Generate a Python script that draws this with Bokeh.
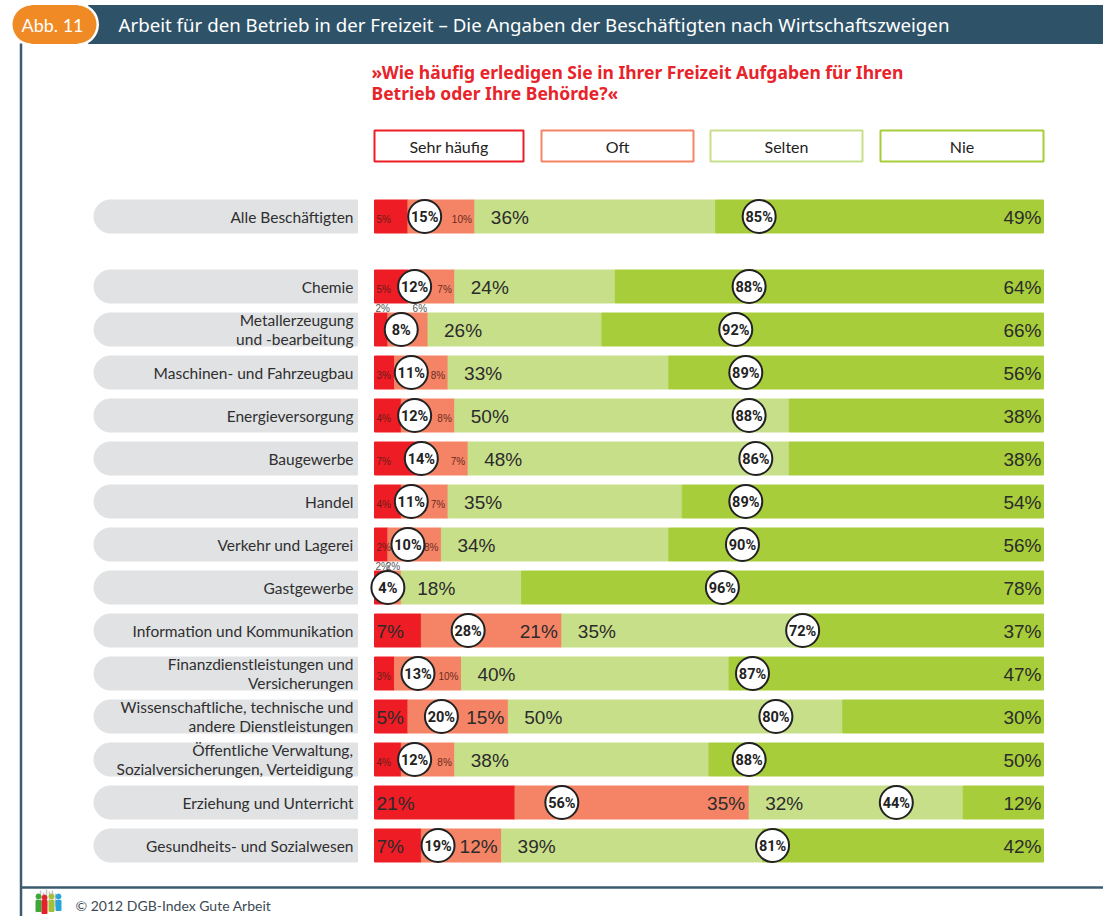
import numpy as np
from bokeh.plotting import figure
from bokeh.models import Range1d
from bokeh.core.properties import value
from bokeh.embed import file_html
from bokeh.resources import INLINE

# ---------------- data ----------------
categories = [
    "Alle Beschäftigten",
    "Chemie",
    "Metallerzeugung\nund -bearbeitung",
    "Maschinen- und Fahrzeugbau",
    "Energieversorgung",
    "Baugewerbe",
    "Handel",
    "Verkehr und Lagerei",
    "Gastgewerbe",
    "Information und Kommunikation",
    "Finanzdienstleistungen und\nVersicherungen",
    "Wissenschaftliche, technische und\nandere Dienstleistungen",
    "Öffentliche Verwaltung,\nSozialversicherungen, Verteidigung",
    "Erziehung und Unterricht",
    "Gesundheits- und Sozialwesen",
]
sehr_haeufig = [5, 5, 2, 3, 4, 7, 4, 2, 2, 7, 3, 5, 4, 21, 7]
oft = [10, 7, 6, 8, 8, 7, 7, 8, 2, 21, 10, 15, 8, 35, 12]
selten = [36, 24, 26, 33, 50, 48, 35, 34, 18, 35, 40, 50, 38, 32, 39]
nie = [49, 64, 66, 56, 38, 38, 54, 56, 78, 37, 47, 30, 50, 12, 42]
haeufig_total = [15, 12, 8, 11, 12, 14, 11, 10, 4, 28, 13, 20, 12, 56, 19]
selten_nie_total = [85, 88, 92, 89, 88, 86, 89, 90, 96, 72, 87, 80, 88, 44, 81]
legend_labels = ["Sehr häufig", "Oft", "Selten", "Nie"]
labels_above = ["Metallerzeugung\nund -bearbeitung", "Gastgewerbe"]

title = "Arbeit für den Betrieb in der Freizeit  \u2013 Die Angaben der Beschäftigten nach Wirtschaftszweigen"
badge = "Abb. 11"
question = ["»Wie häufig erledigen Sie in Ihrer Freizeit Aufgaben für Ihren",
            "Betrieb oder Ihre Behörde?«"]
footer = "© 2012 DGB-Index Gute Arbeit"

# ---------------- style ----------------
RED = "#ee1c25"
SALMON = "#f58466"
LGREEN = "#c8df8a"
GREEN = "#a7cd3a"
TEAL = "#2e5369"
ORANGE = "#f08a24"
PILL = "#e1e2e4"
DARK = "#2b2b2b"

W, H = 1103, 916
X0, PX = 374.0, 6.69  # pixel of 0 % and pixels per percent


def X(px):
    return (px - X0) / PX


def dx(px):
    return px / PX


p = figure(width=W, height=H, x_range=Range1d(X(0), X(W)),
           y_range=Range1d(H, 0), output_backend="svg",
           toolbar_location=None, min_border=0)
p.xaxis.visible = False
p.yaxis.visible = False
p.grid.visible = False
p.outline_line_color = None
p.background_fill_color = "white"
p.border_fill_color = "white"


def txt(xs, ys, ts, size, color, font="Liberation Sans", align="left",
        style="normal", baseline="middle", lh=1.2):
    p.text(x=list(xs), y=list(ys), text=list(ts), text_font_size=f"{size}px",
           text_color=color, text_font=value(font), text_align=align,
           text_baseline=baseline, text_font_style=style, text_line_height=lh)


# ---------------- header ----------------
p.quad(left=X(88), right=X(1103), top=5, bottom=43, color=TEAL)
p.scatter(x=[X(77)], y=[24], size=43, marker="circle", fill_color="white", line_color=None)
p.quad(left=X(31), right=X(77), top=5, bottom=43, color=ORANGE)
p.scatter(x=[X(31), X(77)], y=[24, 24], size=38, marker="circle", fill_color=ORANGE, line_color=None)
txt([X(52)], [24], [badge], 18, "white", font="Lato", align="center")
txt([X(118)], [24], [title], 18.7, "white", font="Noto Sans")

# frame lines
p.segment(x0=[X(20.5)], y0=[43], x1=[X(20.5)], y1=[916], line_color="#3d5b6e", line_width=2.5)
p.segment(x0=[X(20)], y0=[887], x1=[X(1103)], y1=[887], line_color="#3d5b6e", line_width=2.5)

# question
txt([X(371), X(371)], [71, 92], question, 17.5, "#e8232a", font="Noto Sans", style="bold")

# legend boxes
lb_left = [374, 541, 710, 880]
lb_right = [523, 693, 862, 1043]
lb_cols = [RED, SALMON, LGREEN, GREEN]
for l, r, c, t in zip(lb_left, lb_right, lb_cols, legend_labels):
    p.quad(left=X(l), right=X(r), top=130, bottom=161, fill_color="white",
           line_color=c, line_width=2)
    txt([X((l + r) / 2)], [146], [t], 16, "#222", font="Lato", align="center")

# ---------------- rows ----------------
n = len(categories)
row_y = np.array([216.0] + [286.0 + 43.0 * i for i in range(n - 1)])
BH = 33

# grey label pills
p.quad(left=X(110), right=X(357), top=row_y - BH / 2, bottom=row_y + BH / 2, color=PILL)
p.scatter(x=[X(110)] * n, y=row_y, size=BH, marker="circle", color=PILL)
txt([X(353)] * n, row_y, categories, 15.5, "#2f2f2f", font="Lato", align="right", lh=1.03)

s = np.array(sehr_haeufig, float)
o = np.array(oft, float)
se = np.array(selten, float)
ni = np.array(nie, float)
c1 = s
c2 = s + o
c3 = c2 + se
c4 = c3 + ni

# labels placed above narrow bars (drawn first, partially covered by bars)
ab = [i for i in range(n) if categories[i] in labels_above]
txt([dx(1)] * len(ab), row_y[ab] - BH / 2 - 5, [f"{sehr_haeufig[i]}%" for i in ab], 10, "#555")
txt(c2[ab] - dx(1), row_y[ab] - BH / 2 - 5, [f"{oft[i]}%" for i in ab], 10, "#555", align="right")

# bars
p.hbar(y=row_y, left=0, right=c1, height=BH, color=RED)
p.hbar(y=row_y, left=c1, right=c2, height=BH, color=SALMON)
p.hbar(y=row_y, left=c2, right=c3, height=BH, color=LGREEN)
p.hbar(y=row_y, left=c3, right=c4, height=BH, color=GREEN)

# in-bar labels for first two segments
big = [i for i in range(n) if haeufig_total[i] >= 19]
small = [i for i in range(n) if haeufig_total[i] < 19 and i not in ab]
txt([dx(2)] * len(small), row_y[small] + 3, [f"{sehr_haeufig[i]}%" for i in small], 10, "#6a1c18")
txt(c2[small] - dx(3), row_y[small] + 3, [f"{oft[i]}%" for i in small], 10, "#6a2a20", align="right")
txt([dx(2)] * len(big), row_y[big] + 1, [f"{sehr_haeufig[i]}%" for i in big], 19, DARK)
txt(c2[big] - dx(4), row_y[big] + 1, [f"{oft[i]}%" for i in big], 19, DARK, align="right")

# selten / nie labels
txt(c2 + dx(16), row_y + 1, [f"{v}%" for v in selten], 19, DARK)
txt(c4 - dx(2), row_y + 1, [f"{v}%" for v in nie], 19, DARK, align="right")

# total circles
h_tot = np.array(haeufig_total, float)
sn_tot = np.array(selten_nie_total, float)
cx1 = h_tot / 2
cx2 = h_tot + sn_tot / 2
p.scatter(x=np.concatenate([cx1, cx2]), y=np.concatenate([row_y, row_y]), size=33,
          marker="circle", fill_color="white", line_color="#222", line_width=2)
txt(cx1, row_y + 1, [f"{v}%" for v in haeufig_total], 14.5, "#222", font="Roboto",
    align="center", style="bold")
txt(cx2, row_y + 1, [f"{v}%" for v in selten_nie_total], 14.5, "#222", font="Roboto",
    align="center", style="bold")

# ---------------- footer ----------------
gx = [37, 40, 43, 46, 49, 52, 55, 58]
gtop = [893, 890, 892, 889, 891, 890, 893, 895]
p.segment(x0=[X(v) for v in gx], y0=gtop, x1=[X(v) for v in gx], y1=[906] * len(gx),
          line_color="#c4c4c4", line_width=1.5)
fx = [38, 44, 51, 58]
fc = ["#3aa935", "#e3232a", "#a2c037", "#2aa3dc"]
p.quad(left=[X(v - 2.5) for v in fx], right=[X(v + 2.5) for v in fx],
       top=[900] * 4, bottom=[911, 913, 911, 910], color=fc)
p.scatter(x=[X(v) for v in fx], y=[896, 897, 896, 896], size=5, marker="circle", color=fc)
txt([X(75)], [905], [footer], 14, "#3d4a55", font="Lato")

open("out.html", "w").write(file_html(p, INLINE))
